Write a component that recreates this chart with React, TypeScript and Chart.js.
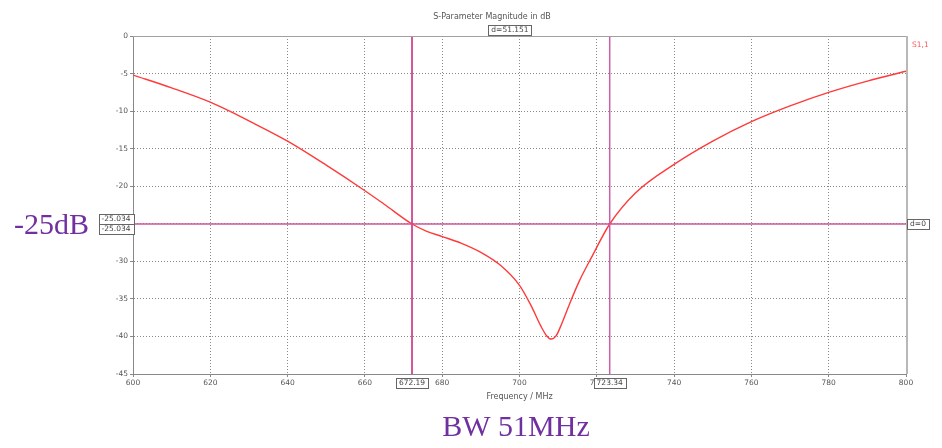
import React, { useEffect, useRef } from "react";
import { Chart, registerables } from "chart.js";

Chart.register(...registerables);

const freqMHz = [600, 610, 620, 625, 630, 640, 650, 660, 665, 672.19, 676, 680, 685, 690, 695, 700, 703, 705.5, 707, 708.2, 709.5, 711, 713, 715.5, 718.5, 723.34, 730, 740, 750, 760, 770, 780, 790, 800];
const s11dB = [-5.2, -6.9, -8.8, -10.0, -11.3, -14.0, -17.2, -20.6, -22.4, -25.03, -26.0, -26.7, -27.6, -28.8, -30.5, -33.2, -35.9, -38.6, -39.9, -40.35, -39.9, -38.2, -35.6, -32.6, -29.6, -25.03, -20.9, -17.1, -14.0, -11.4, -9.3, -7.5, -6.0, -4.7];
const markerFreqs = [672.19, 723.34];
const markerLabels = ["672.19", "723.34"];
const levelDB = -25.034;
const levelLabels = ["-25.034", "-25.034"];
const deltaLabel = "d=51.151";
const levelDeltaLabel = "d=0";
const titleText = "S-Parameter Magnitude in dB";
const seriesName = "S1,1";
const xTitle = "Frequency / MHz";
const leftNote = "-25dB";
const bottomNote = "BW 51MHz";

const MARK = "#c8207a";
const TICK_FONT = "7.5px 'DejaVu Sans'";

function boxLabel(ctx: CanvasRenderingContext2D, text: string, cx: number, cy: number) {
  ctx.font = TICK_FONT;
  const w = ctx.measureText(text).width + 6;
  const h = 10;
  ctx.fillStyle = "#fff";
  ctx.fillRect(Math.round(cx - w / 2) + 0.5, Math.round(cy - h / 2) + 0.5, Math.round(w), h);
  ctx.strokeStyle = "#666";
  ctx.lineWidth = 1;
  ctx.strokeRect(Math.round(cx - w / 2) + 0.5, Math.round(cy - h / 2) + 0.5, Math.round(w), h);
  ctx.fillStyle = "#444";
  ctx.textAlign = "center";
  ctx.textBaseline = "middle";
  ctx.fillText(text, cx, cy + 0.5);
}

const overlay = {
  id: "overlay",
  afterDraw(chart: any) {
    const ctx = chart.ctx as CanvasRenderingContext2D;
    const xs = chart.scales.x;
    const ys = chart.scales.y;
    const a = chart.chartArea;
    ctx.save();
    // frame
    ctx.strokeStyle = "#a0a0a0";
    ctx.lineWidth = 1;
    ctx.beginPath();
    ctx.moveTo(a.left, a.top + 0.5);
    ctx.lineTo(a.right, a.top + 0.5);
    ctx.stroke();
    ctx.lineWidth = 2;
    ctx.strokeStyle = "#b8b8b8";
    ctx.beginPath();
    ctx.moveTo(a.right + 1, a.top);
    ctx.lineTo(a.right + 1, a.bottom);
    ctx.stroke();

    // title
    ctx.fillStyle = "#555";
    ctx.font = "8px 'DejaVu Sans'";
    ctx.textAlign = "center";
    ctx.textBaseline = "middle";
    ctx.fillText(titleText, 492, 17);
    boxLabel(ctx, deltaLabel, 510, 30);

    // series name
    ctx.fillStyle = "#ff5a5a";
    ctx.font = "7.5px 'DejaVu Sans'";
    ctx.textAlign = "left";
    ctx.fillText(seriesName, 912, 45);

    // x title
    ctx.fillStyle = "#555";
    ctx.font = "8px 'DejaVu Sans'";
    ctx.textAlign = "center";
    ctx.fillText(xTitle, (a.left + a.right) / 2, 397);

    // marker labels
    const yl = ys.getPixelForValue(levelDB);
    boxLabel(ctx, levelLabels[0], 116, yl - 5);
    boxLabel(ctx, levelLabels[1], 116, yl + 5);
    boxLabel(ctx, levelDeltaLabel, 918, yl);
    markerFreqs.forEach((f, i) => {
      boxLabel(ctx, markerLabels[i], xs.getPixelForValue(f), a.bottom + 9);
    });

    // notes
    ctx.fillStyle = "#7030a0";
    ctx.font = "30px 'Liberation Serif'";
    ctx.textAlign = "left";
    ctx.textBaseline = "alphabetic";
    ctx.fillText(leftNote, 14, 234);
    ctx.textAlign = "center";
    ctx.fillText(bottomNote, 516, 436);
    ctx.restore();
  },
};

export default function App() {
  const ref = useRef<HTMLCanvasElement>(null);
  useEffect(() => {
    if (!ref.current) return;
    const curve = freqMHz.map((f, i) => ({ x: f, y: s11dB[i] }));
    const chart = new Chart(ref.current, {
      type: "line",
      data: {
        datasets: [
          {
            label: "level",
            data: [{ x: 600, y: levelDB }, { x: 800, y: levelDB }],
            borderColor: "#d0559a",
            borderWidth: 1.5,
            pointRadius: 0,
          },
          {
            label: "m1",
            data: [{ x: markerFreqs[0], y: 0 }, { x: markerFreqs[0], y: -45 }],
            borderColor: MARK,
            borderWidth: 1.5,
            pointRadius: 0,
          },
          {
            label: "m2",
            data: [{ x: markerFreqs[1], y: 0 }, { x: markerFreqs[1], y: -45 }],
            borderColor: "#c860a8",
            borderWidth: 1.5,
            pointRadius: 0,
          },
          {
            label: seriesName,
            data: curve,
            borderColor: "#ff3a3a",
            borderWidth: 1.4,
            pointRadius: 0,
            cubicInterpolationMode: "monotone",
          },
        ],
      },
      options: {
        responsive: false,
        animation: false,
        layout: { padding: { left: 0, top: 36, right: 36, bottom: 0 } },
        plugins: { legend: { display: false }, tooltip: { enabled: false }, title: { display: false } },
        scales: {
          x: {
            type: "linear",
            min: 600,
            max: 800,
            afterFit: (s: any) => { s.height = 74; },
            ticks: { stepSize: 20, color: "#555", font: { family: "DejaVu Sans", size: 7.5 }, padding: 2, maxRotation: 0 },
            grid: { color: "#888", lineWidth: 1, tickLength: 3, drawTicks: true, tickColor: "#888" },
            border: { color: "#888", dash: [1, 2], display: true },
          } as any,
          y: {
            min: -45,
            max: 0,
            afterFit: (s: any) => { s.width = 133; },
            ticks: { stepSize: 5, color: "#555", font: { family: "DejaVu Sans", size: 7.5 }, padding: 2 },
            grid: { color: "#888", lineWidth: 1, tickLength: 3, tickColor: "#888" },
            border: { color: "#888", dash: [1, 2], display: true },
          } as any,
        },
      },
      plugins: [overlay],
    });
    return () => chart.destroy();
  }, []);
  return (
    <div style={{ position: "fixed", left: 0, top: 0, width: 942, height: 448, background: "#fff" }}>
      <canvas ref={ref} width={942} height={448} style={{ width: 942, height: 448, display: "block" }} />
    </div>
  );
}
